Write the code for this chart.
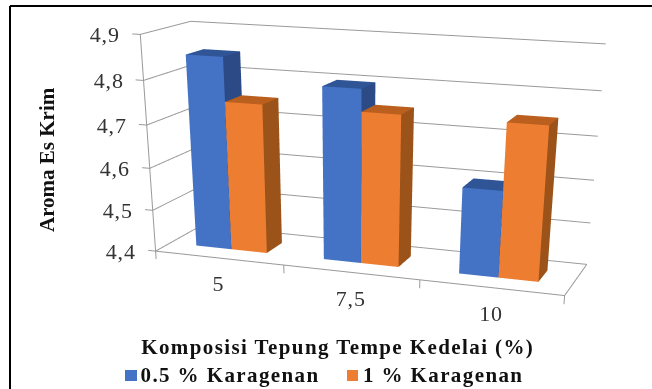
import numpy as np, plotly.graph_objects as go
categories=['5','7,5','10']
z_ticks=[4.4,4.5,4.6,4.7,4.8,4.9]
z_labels=['4,4','4,5','4,6','4,7','4,8','4,9']
blue_values=[4.85,4.80,4.60]
orange_values=[4.75,4.75,4.75]
series_names=['0.5 % Karagenan','1 % Karagenan']
FW,FH=754,1099
lo=[-0.1,-0.1,4.36];hi=[3.1,1.1,4.92]
def px(x): return x/FW
def py(y): return 1-y/FH
BW=0.28;Y0,Y1=0.31,0.68
def bar(xa,xb,val,colors,name):
    xs=[xa,xb,xb,xa,xa,xb,xb,xa];ys=[Y0,Y0,Y1,Y1,Y0,Y0,Y1,Y1];zs=[4.4]*4+[val]*4
    i=[0,0,1,1,4,4];j=[1,5,2,6,5,6];k=[5,4,6,5,6,7]
    return go.Mesh3d(x=xs,y=ys,z=zs,i=i,j=j,k=k,facecolor=[colors[0]]*2+[colors[1]]*2+[colors[2]]*2,flatshading=True,
      lighting=dict(ambient=1,diffuse=0,specular=0,roughness=1,fresnel=0),hoverinfo='skip',name=name)
fig=go.Figure()
gx,gy,gz=[],[],[]
def seg(a0,b0):
    gx.extend([a0[0],b0[0],None]);gy.extend([a0[1],b0[1],None]);gz.extend([a0[2],b0[2],None])
for z in z_ticks:
    seg((-0.06,0,z),(0,0,z));seg((0,0,z),(0,1,z));seg((0,1,z),(3,1,z))
seg((0,0,4.4),(0,0,4.9));seg((0,0,4.4),(3,0,4.4));seg((3,0,4.4),(3,1,4.4))
for q in range(4): seg((q,0,4.4),(q,0,4.38))
fig.add_trace(go.Scatter3d(x=gx,y=gy,z=gz,mode='lines',line=dict(color='#999999',width=2),hoverinfo='skip'))
BC=('#4472C4','#2B4A86','#2F5597');OC=('#ED7D31','#9C5319','#BA5F1E')
for c,(bv,ov) in enumerate(zip(blue_values,orange_values)):
    m=c+0.49
    fig.add_trace(bar(m-BW,m,bv,BC,series_names[0]))
    fig.add_trace(bar(m,m+BW,ov,OC,series_names[1]))
tf=dict(family='Liberation Serif',size=22,color='#333333')
ann=[dict(x=0,y=0,z=z,text=l,showarrow=False,xanchor='right',yanchor='middle',xshift=-19,font=tf) for z,l in zip(z_ticks,z_labels)]
ann+=[dict(x=c+0.5,y=0,z=4.4,text=l,showarrow=False,xanchor='center',yanchor='middle',yshift=-26,font=tf) for c,l in enumerate(categories)]
fig.update_layout(width=FW,height=FH,margin=dict(l=0,r=0,t=0,b=0),showlegend=False,paper_bgcolor='white',
 scene=dict(domain=dict(x=[0,1],y=[0,1]),aspectmode='manual',aspectratio=dict(x=1.940,y=0.561,z=1),annotations=ann,
 xaxis=dict(range=[lo[0],hi[0]],visible=False),yaxis=dict(range=[lo[1],hi[1]],visible=False),zaxis=dict(range=[lo[2],hi[2]],visible=False),
 camera=dict(eye=dict(x=1.843,y=-5.363,z=1.188),center=dict(x=0.293,y=-0.724,z=-1.447),up=dict(x=-0.025,y=0.044,z=1),projection=dict(type='perspective'))))
for s in [dict(x0=px(10),x1=px(652),y0=py(6),y1=py(6)),dict(x0=px(10),x1=px(10),y0=py(6),y1=py(389))]:
    fig.add_shape(type='line',xref='paper',yref='paper',line=dict(color='black',width=2),**s)
fig.add_shape(type='rect',xref='paper',yref='paper',x0=px(125),x1=px(137),y0=py(381),y1=py(370),fillcolor='#4472C4',line_width=0)
fig.add_shape(type='rect',xref='paper',yref='paper',x0=px(347),x1=px(358),y0=py(381),y1=py(370),fillcolor='#ED7D31',line_width=0)
bf=dict(family='Liberation Serif',size=21,color='#111111')
def txt(x,y,s,**kw):
    fig.add_annotation(xref='paper',yref='paper',x=px(x),y=py(y),text=s,showarrow=False,xanchor='center',yanchor='middle',font=bf,**kw)
txt(337.5,347,'<b>Komposisi Tepung Tempe Kedelai (%)</b>')
txt(47,160,'<b>Aroma Es Krim</b>',textangle=-90)
txt(229.5,375,'<b>'+series_names[0]+'</b>')
txt(443,375,'<b>'+series_names[1]+'</b>')
post=("document.documentElement.style.overflow='hidden';document.body.style.margin='0';document.body.style.overflow='hidden';"
"var st=document.createElement('style');st.textContent="
"'.annotation-text{letter-spacing:0.8px}"
".annotation-text[data-unformatted^=\"<b>\"]{letter-spacing:1.4px}"
".annotation-text[data-unformatted*=\"Aroma\"]{letter-spacing:0px}';"
"document.head.appendChild(st);")
fig.write_html('out.html',config=dict(displayModeBar=False),post_script=post)
